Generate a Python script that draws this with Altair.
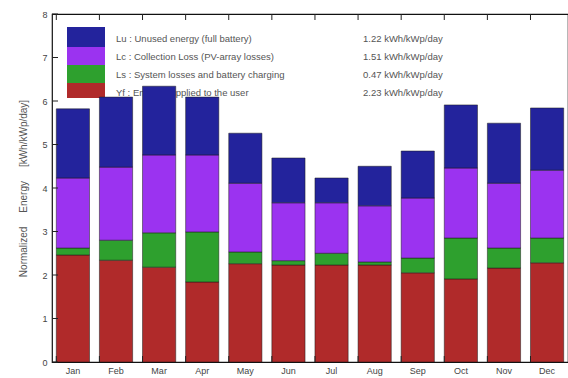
import altair as alt
import pandas as pd

# Monthly normalized energy components (kWh/kWp/day)
months = ["Jan", "Feb", "Mar", "Apr", "May", "Jun",
          "Jul", "Aug", "Sep", "Oct", "Nov", "Dec"]
yf = [2.46, 2.34, 2.18, 1.84, 2.26, 2.23, 2.23, 2.23, 2.05, 1.91, 2.16, 2.28]
ls = [0.16, 0.46, 0.79, 1.15, 0.27, 0.10, 0.27, 0.07, 0.34, 0.94, 0.46, 0.57]
lc = [1.61, 1.68, 1.79, 1.77, 1.58, 1.33, 1.16, 1.29, 1.38, 1.61, 1.49, 1.56]
lu = [1.59, 1.61, 1.58, 1.33, 1.15, 1.03, 0.57, 0.91, 1.08, 1.45, 1.38, 1.43]

series = ["Yf", "Ls", "Lc", "Lu"]
colors = ["#b02a2a", "#2ea02e", "#9b33f0", "#23239c"]
legend_labels = {
    "Lu": "Lu : Unused energy (full battery)",
    "Lc": "Lc : Collection Loss (PV-array losses)",
    "Ls": "Ls : System losses and battery charging",
    "Yf": "Yf : Energy supplied to the user",
}
legend_values = {
    "Lu": "1.22 kWh/kWp/day",
    "Lc": "1.51 kWh/kWp/day",
    "Ls": "0.47 kWh/kWp/day",
    "Yf": "2.23 kWh/kWp/day",
}
y_ticks = [0, 1, 2, 3, 4, 5, 6, 7, 8]
gap = "\u00a0" * 5
y_title = f"Normalized{gap}Energy{gap}[kWh/kWp/day]"

rows = []
for name, vals in zip(series, [yf, ls, lc, lu]):
    for m, v in zip(months, vals):
        rows.append({"month": m, "series": name, "value": v,
                     "order": series.index(name)})
df = pd.DataFrame(rows)
mdf = pd.DataFrame({"month": months})
tdf = pd.DataFrame({"tick": y_ticks})

W, H = 516, 348
xscale = alt.Scale(domain=months, paddingInner=0.23, paddingOuter=0.1)
yscale = alt.Scale(domain=[0, 8], nice=False)

# legend block: stacked colour swatches with labels and mean values
legend_layers = []
sw_top = 13
sw_h = [20, 18, 18, 15]
for k, name in enumerate(["Lu", "Lc", "Ls", "Yf"]):
    top = sw_top + sum(sw_h[:k])
    col = colors[series.index(name)]
    legend_layers.append(
        alt.Chart(mdf.head(1)).mark_rect(color=col).encode(
            x=alt.value(15), x2=alt.value(53),
            y=alt.value(top), y2=alt.value(top + sw_h[k]),
        )
    )
    ty = 25 + 18 * k
    legend_layers.append(
        alt.Chart(mdf.head(1)).mark_text(
            text=legend_labels[name], align="left", baseline="middle",
            fontSize=9.5, color="#555", font="Liberation Sans").encode(
            x=alt.value(64), y=alt.value(ty))
    )
    legend_layers.append(
        alt.Chart(mdf.head(1)).mark_text(
            text=legend_values[name], align="left", baseline="middle",
            fontSize=9.5, color="#555", font="Liberation Sans").encode(
            x=alt.value(311), y=alt.value(ty))
    )

bars = alt.Chart(df).mark_bar(stroke="#1a1a1a", strokeWidth=0.5).encode(
    x=alt.X("month:N", scale=xscale, sort=months,
            axis=alt.Axis(title=None, labelAngle=0, ticks=False, domain=False,
                          labelFontSize=9, labelColor="#444",
                          labelPadding=4, labelFont="Liberation Sans")),
    y=alt.Y("value:Q", stack="zero", scale=yscale,
            axis=alt.Axis(title=y_title,
                          values=y_ticks, grid=False, ticks=False, domain=False,
                          labelFontSize=9, labelColor="#444", labelPadding=5,
                          labelFont="Liberation Sans",
                          titleFontSize=10, titleColor="#555",
                          titleFontWeight="normal", titleFont="Liberation Sans",
                          titlePadding=13)),
    color=alt.Color("series:N", scale=alt.Scale(domain=series, range=colors),
                    legend=None),
    order=alt.Order("order:Q", sort="ascending"),
)

# inward ticks on the left edge
yticks = alt.Chart(tdf).mark_rule(color="#222", strokeWidth=1).encode(
    y=alt.Y("tick:Q", scale=yscale),
    x=alt.value(0), x2=alt.value(6),
)

# inward ticks between months, top and bottom
bticks = alt.Chart(mdf).mark_rule(color="#222", strokeWidth=1).encode(
    x=alt.X("month:N", scale=xscale, sort=months, bandPosition=0),
    y=alt.value(H), y2=alt.value(H - 6),
)
tticks = alt.Chart(mdf).mark_rule(color="#222", strokeWidth=1).encode(
    x=alt.X("month:N", scale=xscale, sort=months, bandPosition=0),
    y=alt.value(0), y2=alt.value(6),
)

chart = alt.layer(*legend_layers, bars, yticks, bticks, tticks).properties(
    width=W, height=H,
    autosize=alt.AutoSizeParams(type="none"),
    padding={"left": 52, "top": 14, "right": 0, "bottom": 16},
    background="white",
).configure_view(stroke="#111", strokeWidth=1.2)

chart.save("out.html", embed_options={"renderer": "svg", "actions": False})
